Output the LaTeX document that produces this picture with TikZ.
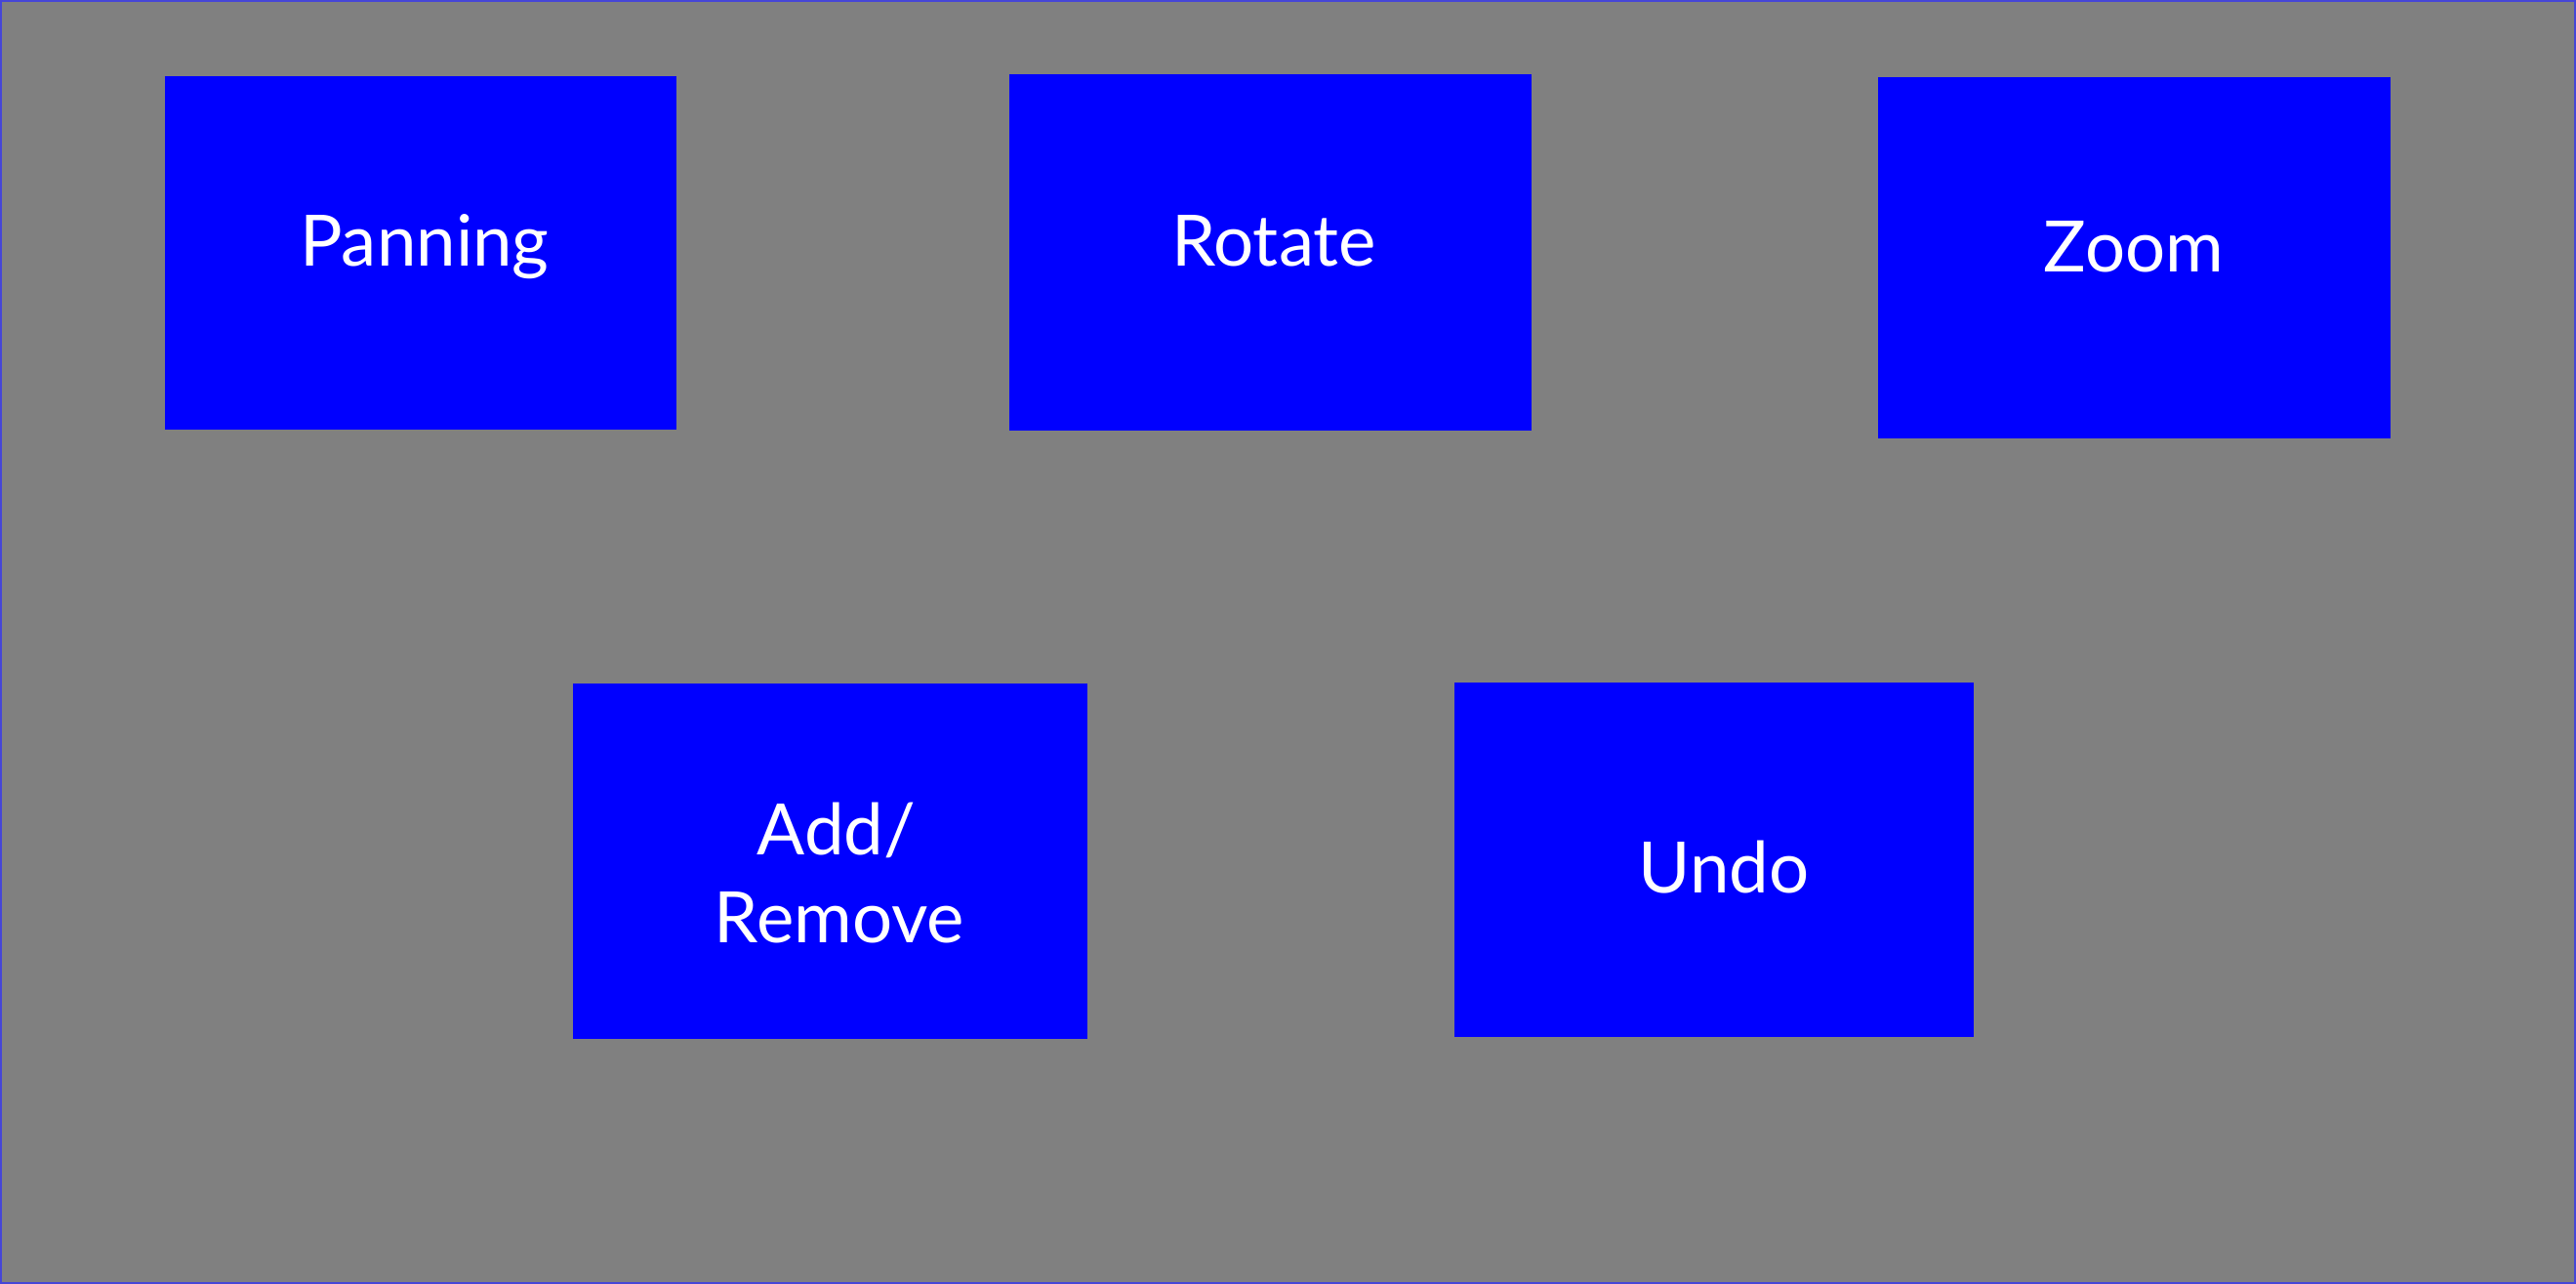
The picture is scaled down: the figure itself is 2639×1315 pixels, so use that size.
\documentclass[tikz,border=0pt]{standalone}
\usepackage{fontspec}
\setmainfont{Lato}
\definecolor{bggray}{RGB}{128,128,128}
\definecolor{boxblue}{RGB}{0,0,255}
\definecolor{frameblue}{RGB}{70,70,215}
\begin{document}
\begin{tikzpicture}[x=0.01cm,y=-0.01cm,
  btn/.style={draw=none,fill=boxblue,rectangle,inner sep=0pt,anchor=north west},
  lbl/.style={text=white,inner sep=0pt,anchor=base,align=center,
    font=\fontsize{20.65}{25.6}\selectfont}]
\useasboundingbox (0,0) rectangle (2639,1315);
\fill[bggray] (0,0) rectangle (2639,1315);
\draw[frameblue,line width=0.02cm] (1,1) rectangle (2638,1314);
\node[btn,minimum width=524*0.01cm,minimum height=362*0.01cm] (pan) at (168,77) {};
\node[btn,minimum width=535*0.01cm,minimum height=365*0.01cm] (rot) at (1033,75) {};
\node[btn,minimum width=525*0.01cm,minimum height=370*0.01cm] (zoom) at (1923,78) {};
\node[btn,minimum width=527*0.01cm,minimum height=364*0.01cm] (add) at (586,699) {};
\node[btn,minimum width=532*0.01cm,minimum height=363*0.01cm] (undo) at (1489,698) {};
\node[lbl] (tpan) at (435,272) {Panning};
\node[lbl] (trot) at (1305,272) {Rotate};
\node[lbl] (tzoom) at (2186,278) {Zoom};
\node[lbl] (tadd1) at (857,875) {Add/};
\node[lbl] (tadd2) at (860,965) {Remove};
\node[lbl] (tundo) at (1766,914) {Undo};
\end{tikzpicture}
\end{document}
